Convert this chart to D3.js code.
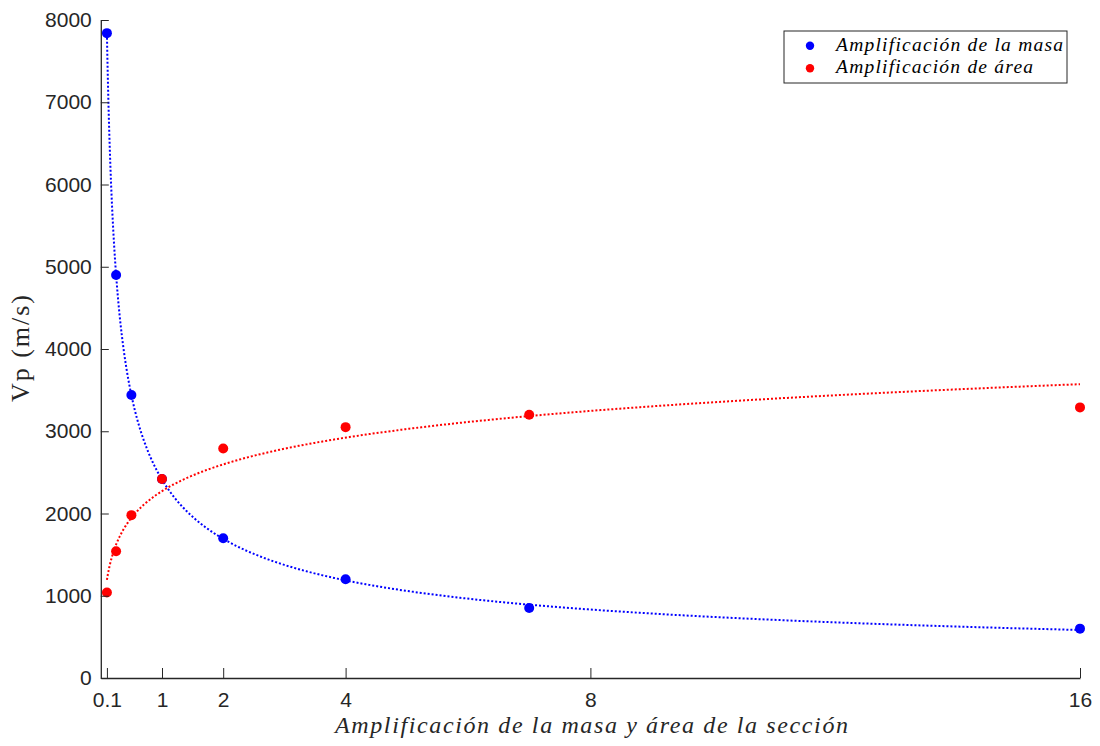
<!DOCTYPE html>
<html>
<head>
<meta charset="utf-8">
<script src="https://cdn.jsdelivr.net/npm/d3@7/dist/d3.min.js"></script>
<style>
  html, body { margin: 0; padding: 0; background: #fff; }
  svg { display: block; }
</style>
</head>
<body>
<svg id="chart" width="1100" height="746"></svg>
<script>
// Amplification factors (x) and measured P-wave velocities (m/s)
const amplification = [0.1, 0.25, 0.5, 1, 2, 4, 7, 16];
const vpMass = [7840, 4900, 3440, 2420, 1700, 1200, 850, 600];
const vpArea = [1040, 1540, 1980, 2420, 2790, 3050, 3200, 3290];

const xTicks = [0.1, 1, 2, 4, 8, 16];
const yTicks = [0, 1000, 2000, 3000, 4000, 5000, 6000, 7000, 8000];

const seriesNames = ["Amplificación de la masa", "Amplificación de área"];
const seriesColors = ["#0000ff", "#ff0000"];

const svg = d3.select("#chart");
const axisColor = "#262626";
const serif = "'Liberation Serif', 'Times New Roman', serif";
const sans = "'Liberation Sans', Arial, Helvetica, sans-serif";

const x = d3.scaleLinear().domain([0, 16]).range([100.8, 1080]);
const y = d3.scaleLinear().domain([0, 8000]).range([678, 20]);

// Least-squares fits: power law for mass, logarithmic for area
function fitPower(xs, ys) {
  const lx = xs.map(Math.log), ly = ys.map(Math.log);
  const mx = d3.mean(lx), my = d3.mean(ly);
  const b = d3.sum(lx, (v, i) => (v - mx) * (ly[i] - my)) / d3.sum(lx, v => (v - mx) ** 2);
  const a = Math.exp(my - b * mx);
  return t => a * Math.pow(t, b);
}
function fitLog(xs, ys) {
  const lx = xs.map(Math.log);
  const mx = d3.mean(lx), my = d3.mean(ys);
  const d = d3.sum(lx, (v, i) => (v - mx) * (ys[i] - my)) / d3.sum(lx, v => (v - mx) ** 2);
  const c = my - d * mx;
  return t => c + d * Math.log(t);
}
const fits = [fitPower(amplification, vpMass), fitLog(amplification, vpArea)];
const xMin = d3.min(amplification), xMax = d3.max(amplification);
const sampleX = d3.range(0, 401).map(i => xMin * Math.pow(xMax / xMin, i / 400));

// Spread a serif label so it spans the given width
function spreadTo(sel, width) {
  return sel.attr("textLength", width).attr("lengthAdjust", "spacing");
}

const line = d3.line().x(d => x(d[0])).y(d => y(d[1]));

// Fitted curves (dotted)
fits.forEach((f, k) => {
  svg.append("path")
    .datum(sampleX.map(t => [t, f(t)]))
    .attr("d", line)
    .attr("fill", "none")
    .attr("stroke", seriesColors[k])
    .attr("stroke-width", 2)
    .attr("stroke-dasharray", "2,2");
});

// Data points
[vpMass, vpArea].forEach((vals, k) => {
  svg.append("g").selectAll("circle")
    .data(vals)
    .join("circle")
    .attr("cx", (d, i) => x(amplification[i]))
    .attr("cy", d => y(d))
    .attr("r", 5)
    .attr("fill", seriesColors[k]);
});

// Axes (ticks drawn inward)
const xAxis = svg.append("g").attr("transform", `translate(0,${y(0)})`)
  .call(d3.axisBottom(x).tickValues(xTicks).tickFormat(d3.format("~g")).tickSizeInner(-10).tickSizeOuter(0).tickPadding(14));
const yAxis = svg.append("g").attr("transform", `translate(${x(0)},0)`)
  .call(d3.axisLeft(y).tickValues(yTicks).tickFormat(d3.format("d")).tickSizeInner(-8).tickSizeOuter(0).tickPadding(9));

[xAxis, yAxis].forEach(g => {
  g.attr("font-family", null).attr("font-size", null);
  g.select(".domain").attr("stroke", axisColor).attr("stroke-width", 1.3);
  g.selectAll(".tick line").attr("stroke", axisColor).attr("stroke-width", 1);
  g.selectAll(".tick text").attr("fill", axisColor)
    .style("font-family", sans).style("font-size", "21px");
});

// Axis titles
const xTitle = svg.append("text")
  .attr("x", 335).attr("y", 733)
  .style("font-family", serif).style("font-style", "italic").style("font-size", "24px")
  .attr("fill", axisColor)
  .text("Amplificación de la masa y área de la sección");
spreadTo(xTitle, 513);

const yTitle = svg.append("text")
  .attr("transform", "translate(29,402) rotate(-90)")
  .style("font-family", serif).style("font-size", "26px")
  .attr("fill", axisColor)
  .text("Vp (m/s)");
spreadTo(yTitle, 107);

// Legend
const legend = svg.append("g").attr("transform", "translate(784,31)");
legend.append("rect")
  .attr("width", 283).attr("height", 52)
  .attr("fill", "#fff").attr("stroke", axisColor).attr("stroke-width", 1);
const legendWidths = [227, 197];
seriesNames.forEach((name, k) => {
  const row = legend.append("g").attr("transform", `translate(0,${14.7 + k * 22.6})`);
  row.append("circle").attr("cx", 26).attr("cy", 0).attr("r", 4.2).attr("fill", seriesColors[k]);
  const t = row.append("text").attr("x", 52).attr("y", 5)
    .style("font-family", serif).style("font-style", "italic").style("font-size", "19.5px")
    .attr("fill", "#000")
    .text(name);
  spreadTo(t, legendWidths[k]);
});
</script>
</body>
</html>
